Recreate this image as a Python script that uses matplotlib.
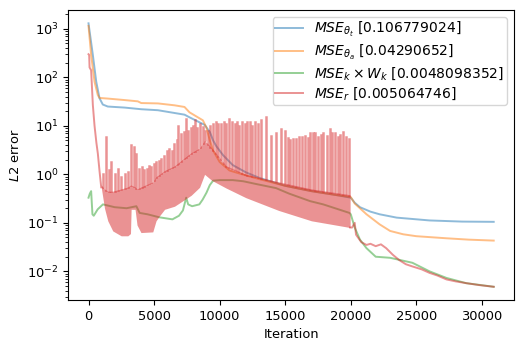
import numpy as np
import matplotlib
matplotlib.use('Agg')
import matplotlib.pyplot as plt

# blue: MSE theta_t
it_t = [0, 330, 590, 840, 1090, 1470, 2750, 4020, 5290, 6560, 7320, 7700, 8470, 8850, 9250, 9500, 9750,
        10250, 11000, 12000, 13000, 15000, 17000, 19000, 20000, 20300, 20700, 21500, 22200, 23500, 26000,
        28500, 30900]
mse_t = [1300, 290, 81, 37, 27.5, 25, 23.8, 22, 21, 18.4, 17, 15, 11.8, 10.5, 7.5, 5, 3.8,
         2.5, 1.55, 1.1, 0.85, 0.58, 0.45, 0.37, 0.33, 0.26, 0.21, 0.17, 0.15, 0.128, 0.112,
         0.106, 0.1048]

# orange: MSE theta_a
it_a = [0, 200, 460, 710, 840, 1470, 2750, 3760, 4020, 5290, 6560, 7320, 7700, 8720, 8980, 9250, 9500,
        10000, 10750, 12000, 13000, 15000, 17000, 19000, 20000, 20300, 21200, 22200, 23000, 24000, 25000,
        27300, 29000, 30900]
mse_a = [1150, 290, 81, 43, 37.6, 36.5, 34, 32, 29.5, 29, 26.5, 24.5, 19, 13, 9.4, 5, 3.1,
         1.8, 1.2, 0.95, 0.8, 0.58, 0.45, 0.37, 0.34, 0.25, 0.15, 0.093, 0.068, 0.058, 0.053,
         0.048, 0.045, 0.043]

# green: MSE_k x W_k
it_k = [0, 100, 200, 300, 400, 700, 1100, 2000, 2900, 3650, 3900, 4500, 5400, 6400, 6900, 7200, 7450,
        7600, 7900, 8450, 8700, 9000, 9250, 9500, 10000, 11000, 11800, 12800, 14300, 15300, 16900, 17900,
        19900, 20000, 20300, 20700, 21200, 21900, 23000, 24700, 26000, 27300, 28800, 30900]
mse_k = [0.33, 0.4, 0.45, 0.15, 0.14, 0.19, 0.24, 0.21, 0.2, 0.22, 0.16, 0.15, 0.13, 0.118, 0.14, 0.18, 0.33,
         0.24, 0.22, 0.24, 0.3, 0.42, 0.6, 0.74, 0.76, 0.76, 0.72, 0.63, 0.52, 0.4, 0.28, 0.24,
         0.16, 0.15, 0.08, 0.045, 0.03, 0.02, 0.019, 0.015, 0.01, 0.0073, 0.0057, 0.0048]

# red: MSE_r, start, oscillating band, spikes, tail
it_r0 = [0, 50, 80, 200, 330, 460, 600, 710, 850, 970]
mse_r0 = [300, 290, 160, 140, 27, 10, 4.5, 2.7, 1.1, 0.54]

band_it = [970, 1220, 1470, 1850, 2490, 3000, 3200, 3250, 3550, 3700, 4000, 4900, 5150, 5420, 5800,
           6560, 7320, 7830, 8470, 8850, 9400, 10500, 12000, 14500, 17000, 19950]
band_lo = [0.54, 0.2, 0.11, 0.068, 0.054, 0.054, 0.06, 0.19, 0.19, 0.09, 0.063, 0.065, 0.11, 0.14, 0.19,
           0.22, 0.3, 0.37, 0.54, 1.0, 0.75, 0.52, 0.33, 0.18, 0.11, 0.08]
band_hi = [0.6, 0.5, 0.45, 0.45, 0.5, 0.55, 0.6, 0.6, 0.55, 0.5, 0.55, 0.7, 0.9, 1.0, 1.2,
           1.5, 2.2, 2.8, 3.5, 5.0, 3.5, 1.5, 1.0, 0.7, 0.5, 0.38]

spike_it = [1100, 1350, 1550, 1750, 2000, 2250, 2500, 2750, 3000,
            3250, 3450, 3650, 3850, 4050, 4250, 4450, 4650, 4800, 5000, 5150, 5350, 5550, 5750, 5950, 6150,
            6350, 6550, 6750, 6850, 7050, 7250, 7400, 7600, 7800, 8000, 8100, 8300, 8500, 8700, 8850,
            9100, 9300, 9500, 9700, 9900, 10100, 10300, 10500, 10750, 10950, 11150, 11300, 11500, 11700,
            11900, 12100, 12300, 12500, 12700, 12900, 13150, 13500, 13900, 14300, 14700, 14950, 15200,
            15350, 15600, 15850, 16050, 16250, 16500, 16700, 16900, 17100, 17300, 17500, 17700, 17900,
            18150, 18400, 18600, 18800, 19000, 19200, 19400, 19650, 19900]
spike_top = [1.0, 5.9, 1.2, 1.8, 1.0, 1.3, 0.9, 1.0, 1.1,
             4.0, 3.7, 2.6, 1.3, 1.4, 1.2, 1.3, 1.5, 1.4, 1.6, 1.8, 1.9, 2.1, 2.4, 3.1, 3.4,
             3.0, 4.3, 5.0, 10, 6.9, 7.5, 14, 8, 9, 10, 13, 9, 11, 9.4, 8,
             8, 10, 11, 12, 11, 11, 12, 11, 14, 12, 11, 12, 10, 12,
             11, 12, 12, 10, 12, 11, 13, 15, 6.3, 7, 8.7, 8, 5.5,
             5, 5.3, 5.3, 6, 5.8, 6.3, 5.5, 7, 7, 7, 5.8, 6.5, 7,
             6.3, 8.7, 7, 7, 5.8, 6.5, 7.5, 5.8, 5.4]

it_r1 = [19950, 20100, 20300, 20400, 20800, 21200, 21500, 21900, 22300, 22700, 23200, 23700, 24200, 24700,
         25400, 26000, 26600, 27300, 28000, 28800, 29800, 30900]
mse_r1 = [0.08, 0.08, 0.1, 0.057, 0.04, 0.035, 0.037, 0.033, 0.036, 0.03, 0.022, 0.017, 0.014, 0.0126,
          0.011, 0.0093, 0.0082, 0.0068, 0.0062, 0.0057, 0.0052, 0.0048]

labels = [r'$MSE_{\theta_t}$ [0.106779024]', r'$MSE_{\theta_a}$ [0.04290652]',
          r'$MSE_k \times W_k$ [0.0048098352]', r'$MSE_r$ [0.005064746]']

plt.rcParams['font.size'] = 9.4
plt.rcParams['lines.linewidth'] = 1.4

fig, ax = plt.subplots(figsize=(5.25, 3.5), dpi=100)
fig.subplots_adjust(left=0.130, right=0.979, top=0.971, bottom=0.143)

ax.plot(it_t, mse_t, color='C0', alpha=0.5, label=labels[0])
ax.plot(it_a, mse_a, color='C1', alpha=0.5, label=labels[1])
ax.plot(it_k, mse_k, color='C2', alpha=0.5, label=labels[2])

ax.plot(it_r0, mse_r0, color='C3', alpha=0.5, label=labels[3])
ax.fill_between(band_it, band_lo, band_hi, color='C3', alpha=0.5, lw=0, zorder=2)
# spikes as one path, from top of band up to peak
base = 10 ** np.interp(spike_it, band_it, np.log10(band_hi))
sx, sy = [], []
for x, b, t in zip(spike_it, base, spike_top):
    sx += [x, x, np.nan]
    sy += [b, t, np.nan]
ax.plot(sx, sy, color='C3', alpha=0.5, lw=1.8)
ax.plot(it_r1, mse_r1, color='C3', alpha=0.5)

ax.set_yscale('log')
ax.set_xlabel('Iteration')
ax.set_ylabel('$L2$ error')
ax.legend(loc='upper right', fontsize=10, labelspacing=0.25, borderpad=0.2)

plt.savefig('out.png', dpi=100)
